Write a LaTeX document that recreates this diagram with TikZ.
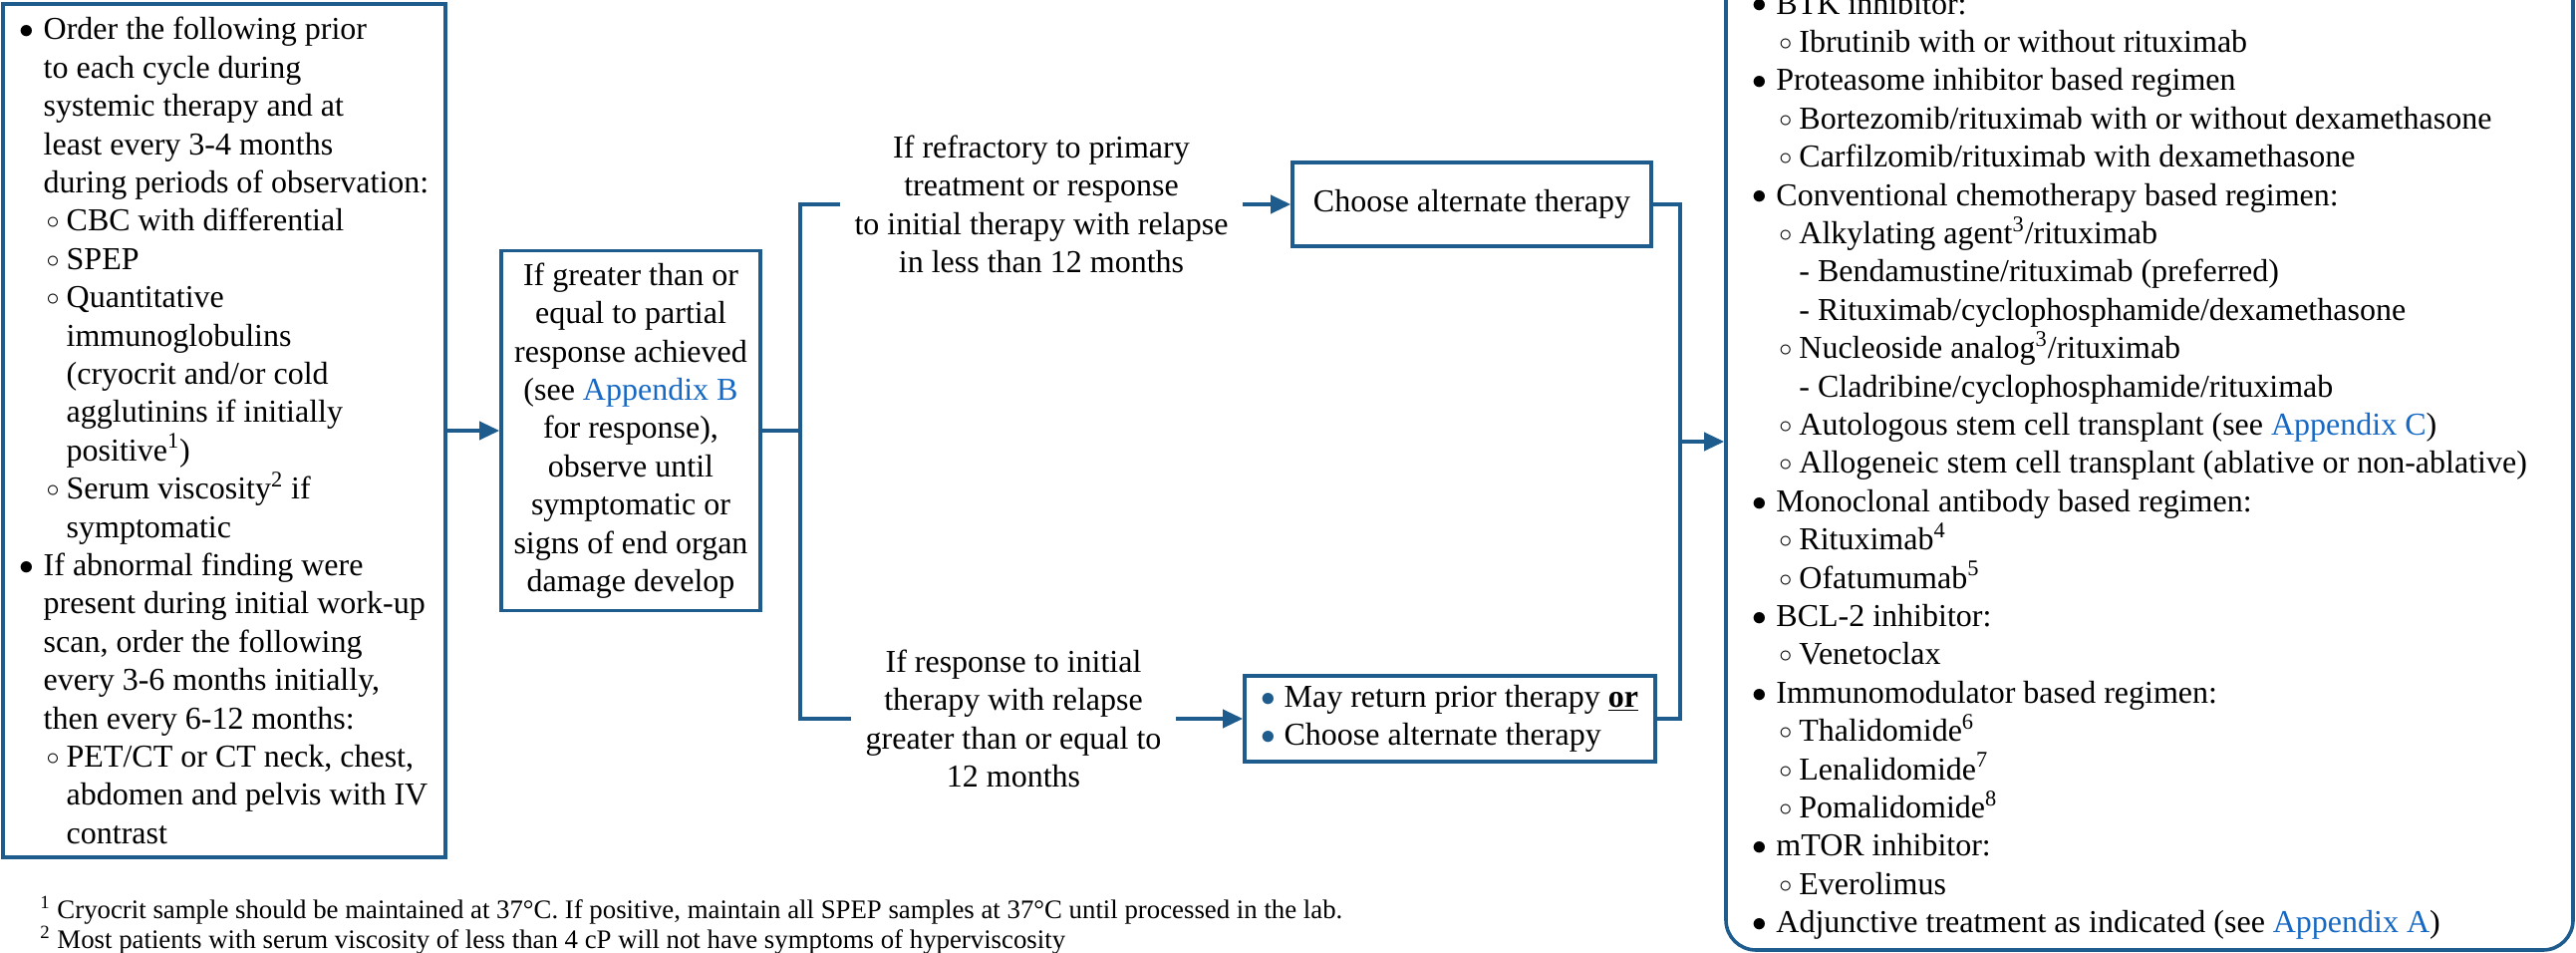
\documentclass[tikz,border=0pt]{standalone}
\usepackage{fontspec}
\setmainfont{Liberation Serif}
\usepackage{xcolor}
\usetikzlibrary{arrows.meta}
\definecolor{wmFrame}{RGB}{31,92,142}
\definecolor{wmLink}{RGB}{21,104,196}
\newcommand{\wmMark}{\raisebox{0.6pt}{\scalebox{0.85}{$\bullet$}}}
\newcommand{\wmBul}[1]{\makebox[12pt][l]{\wmMark}#1}
\newcommand{\wmCont}[1]{\hspace*{12pt}#1}
\newcommand{\wmSub}[1]{\hspace*{13.5pt}\makebox[10pt][l]{\raisebox{1pt}{\scalebox{0.75}{$\circ$}}}#1}
\newcommand{\wmSubCont}[1]{\hspace*{23.5pt}#1}
\newcommand{\wmDash}[1]{\hspace*{23.5pt}- #1}
\newcommand{\wmLinkText}[1]{\textcolor{wmLink}{#1}}
\newcommand{\wmDot}{\textcolor{wmFrame}{\wmMark}}

\begin{document}
\begin{tikzpicture}[x=0.5pt,y=-0.5pt,
  box/.style={draw=wmFrame, line width=1.8pt, inner sep=0pt},
  plain/.style={font={\fontsize{16pt}{19.2pt}\selectfont}},
  wire/.style={draw=wmFrame, line width=1.8pt},
  flow/.style={wire, -{Triangle[length=10pt,width=9pt]}}]
\clip (0,0) rectangle (2585,956);
\node[box, plain, align=left, minimum width=222pt, minimum height=428pt] (monitor) at (225,432) {\wmBul{Order the following prior}\\\wmCont{to each cycle during}\\\wmCont{systemic therapy and at}\\\wmCont{least every 3-4 months}\\\wmCont{during periods of observation:}\\\wmSub{CBC with differential}\\\wmSub{SPEP}\\\wmSub{Quantitative}\\\wmSubCont{immunoglobulins}\\\wmSubCont{(cryocrit and/or cold}\\\wmSubCont{agglutinins if initially}\\\wmSubCont{positive\textsuperscript{1})}\\\wmSub{Serum viscosity\textsuperscript{2} if}\\\wmSubCont{symptomatic}\\\wmBul{If abnormal finding were}\\\wmCont{present during initial work-up}\\\wmCont{scan, order the following}\\\wmCont{every 3-6 months initially,}\\\wmCont{then every 6-12 months:}\\\wmSub{PET/CT or CT neck, chest,}\\\wmSubCont{abdomen and pelvis with IV}\\\wmSubCont{contrast}};
\node[box, plain, align=center, minimum width=130pt, minimum height=180.5pt] (observe) at (633,432) {If greater than or\\equal to partial\\response achieved\\(see \wmLinkText{Appendix B}\\for response),\\observe until\\symptomatic or\\signs of end organ\\damage develop};
\node[plain, align=center, inner xsep=7pt, inner ysep=0pt] (refr) at (1045,205) {If refractory to primary\\treatment or response\\to initial therapy with relapse\\in less than 12 months};
\node[plain, align=center, inner xsep=7pt, inner ysep=0pt] (sens) at (1017,721) {If response to initial\\therapy with relapse\\greater than or equal to\\12 months};
\node[box, plain, minimum width=180pt, minimum height=42pt] (alt) at (1477,205) {Choose alternate therapy};
\node[box, plain, align=left, minimum width=206pt, minimum height=43pt] (retx) at (1455,721) {\wmDot\ May return prior therapy \underline{\textbf{or}}\\\wmDot\ Choose alternate therapy};
\node[box, rounded corners=15pt, minimum width=425pt, minimum height=520pt] (optbox) at (2157,433) {};
\node[plain, align=left, inner sep=0pt, anchor=south west] (optlist) at (1758,943) {\wmBul{BTK inhibitor:}\\\wmSub{Ibrutinib with or without rituximab}\\\wmBul{Proteasome inhibitor based regimen}\\\wmSub{Bortezomib/rituximab with or without dexamethasone}\\\wmSub{Carfilzomib/rituximab with dexamethasone}\\\wmBul{Conventional chemotherapy based regimen:}\\\wmSub{Alkylating agent\textsuperscript{3}/rituximab}\\\wmDash{Bendamustine/rituximab (preferred)}\\\wmDash{Rituximab/cyclophosphamide/dexamethasone}\\\wmSub{Nucleoside analog\textsuperscript{3}/rituximab}\\\wmDash{Cladribine/cyclophosphamide/rituximab}\\\wmSub{Autologous stem cell transplant (see \wmLinkText{Appendix C})}\\\wmSub{Allogeneic stem cell transplant (ablative or non-ablative)}\\\wmBul{Monoclonal antibody based regimen:}\\\wmSub{Rituximab\textsuperscript{4}}\\\wmSub{Ofatumumab\textsuperscript{5}}\\\wmBul{BCL-2 inhibitor:}\\\wmSub{Venetoclax}\\\wmBul{Immunomodulator based regimen:}\\\wmSub{Thalidomide\textsuperscript{6}}\\\wmSub{Lenalidomide\textsuperscript{7}}\\\wmSub{Pomalidomide\textsuperscript{8}}\\\wmBul{mTOR inhibitor:}\\\wmSub{Everolimus}\\\wmBul{Adjunctive treatment as indicated (see \wmLinkText{Appendix A})}};
\node[font={\fontsize{13.4pt}{15pt}\selectfont}, align=left, inner sep=0pt, anchor=west] (notes) at (40,928) {\textsuperscript{1} Cryocrit sample should be maintained at 37°C. If positive, maintain all SPEP samples at 37°C until processed in the lab.\\\textsuperscript{2} Most patients with serum viscosity of less than 4 cP will not have symptoms of hyperviscosity};
\coordinate (split) at (803,432);
\coordinate (joinR) at (1686,443);
\draw[flow] (monitor.east) -- (observe.west);
\draw[wire] (observe.east) -- (split);
\draw[wire] (refr.west) -| (split) |- (sens.west);
\draw[flow] (refr.east) -- (alt.west);
\draw[flow] (sens.east) -- (retx.west);
\draw[wire] (alt.east) -| (joinR) |- (retx.east);
\draw[flow] (joinR) -- (joinR -| optbox.west);
\end{tikzpicture}
\end{document}
